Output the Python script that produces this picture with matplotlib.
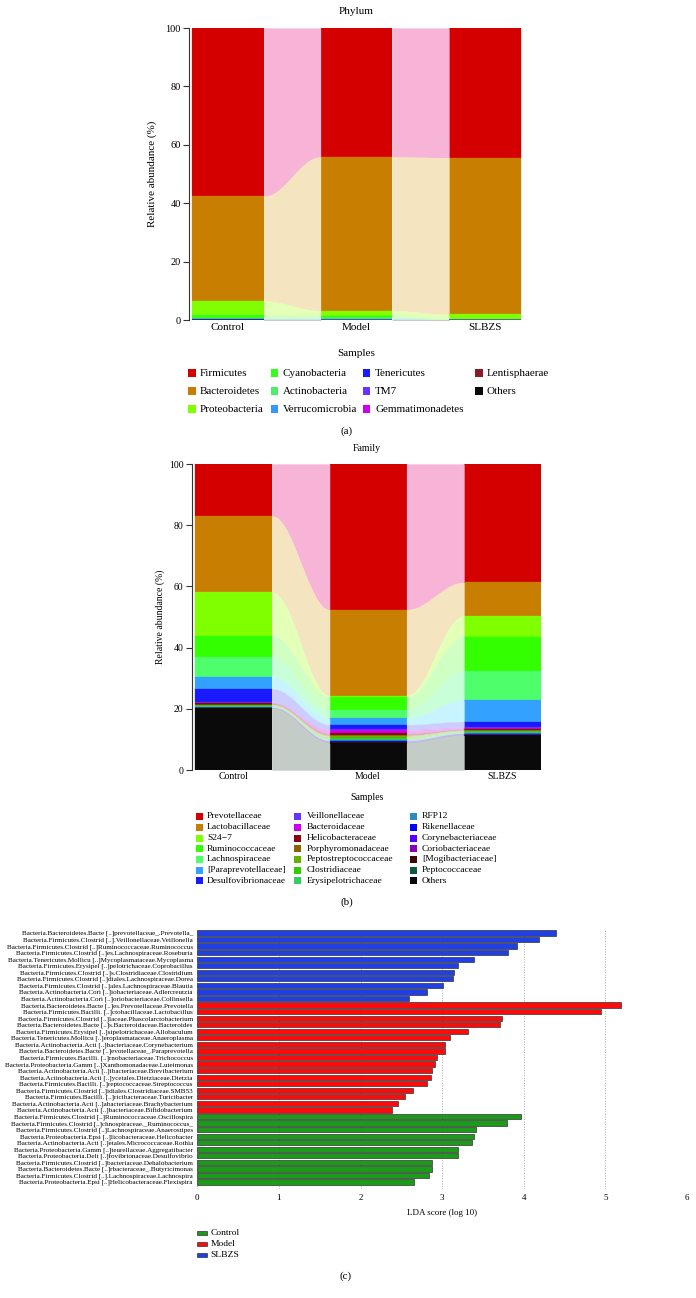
import numpy as np
import matplotlib.pyplot as plt
from matplotlib.colors import to_rgb
from matplotlib.patches import Rectangle

plt.rcParams['font.family'] = ['Liberation Serif', 'DejaVu Serif']

W, H = 696, 1298

samples = ['Control', 'Model', 'SLBZS']

# ---- panel (a): phylum, top of the stack first, Others at the bottom
phylum_names = ['Firmicutes', 'Bacteroidetes', 'Proteobacteria', 'Cyanobacteria',
                'Actinobacteria', 'Verrucomicrobia', 'Tenericutes', 'TM7',
                'Gemmatimonadetes', 'Lentisphaerae', 'Others']
phylum_control = [57.6, 35.9, 4.9, 1.2, 0.15, 0.05, 0.1, 0.02, 0.01, 0.02, 0.05]
phylum_model = [44.2, 52.6, 1.7, 0.9, 0.2, 0.25, 0.08, 0.02, 0.01, 0.01, 0.03]
phylum_slbzs = [44.4, 53.7, 1.4, 0.3, 0.1, 0.05, 0.02, 0.01, 0.01, 0.0, 0.01]

# ---- panel (b): family
family_names = ['Prevotellaceae', 'Lactobacillaceae', 'S24\u22127', 'Ruminococcaceae',
                'Lachnospiraceae', '[Paraprevotellaceae]', 'Desulfovibrionaceae',
                'Veillonellaceae', 'Bacteroidaceae', 'Helicobacteraceae',
                'Porphyromonadaceae', 'Peptostreptococcaceae', 'Clostridiaceae',
                'Erysipelotrichaceae', 'RFP12', 'Rikenellaceae', 'Corynebacteriaceae',
                'Coriobacteriaceae', '[Mogibacteriaceae]', 'Peptococcaceae', 'Others']
family_control = [17.0, 24.9, 14.2, 7.1, 6.4, 3.9, 4.3, 0.2, 0.1, 0.5, 0.2, 0.1,
                  0.2, 0.2, 0.3, 0.1, 0.05, 0.05, 0.05, 0.05, 20.1]
family_model = [47.6, 28.1, 0.4, 4.3, 2.7, 2.1, 1.4, 0.3, 1.1, 0.7, 0.3, 0.5,
                0.5, 0.3, 0.2, 0.2, 0.2, 0.1, 0.1, 0.1, 8.8]
family_slbzs = [38.7, 10.9, 6.9, 11.1, 9.6, 7.0, 1.7, 0.4, 0.4, 0.3, 0.1, 0.3,
                0.2, 0.3, 0.2, 0.2, 0.1, 0.1, 0.1, 0.1, 11.3]

# ---- panel (c): LEfSe LDA scores, listed top to bottom
lda_labels = [
    'Bacteria.Bacteroidetes.Bacte [..]prevotellaceae_.Prevotella_',
    'Bacteria.Firmicutes.Clostrid [..].Veillonellaceae.Veillonella',
    'Bacteria.Firmicutes.Clostrid [..]Ruminococcaceae.Ruminococcus',
    'Bacteria.Firmicutes.Clostrid [..]es.Lachnospiraceae.Roseburia',
    'Bacteria.Tenericutes.Mollicu [..]Mycoplasmataceae.Mycoplasma',
    'Bacteria.Firmicutes.Erysipel [..]pelotrichaceae.Coprobacillus',
    'Bacteria.Firmicutes.Clostrid [..]s.Clostridiaceae.Clostridium',
    'Bacteria.Firmicutes.Clostrid [..]diales.Lachnospiraceae.Dorea',
    'Bacteria.Firmicutes.Clostrid [..]ales.Lachnospiraceae.Blautia',
    'Bacteria.Actinobacteria.Cori [..]iobacteriaceae.Adlercreutzia',
    'Bacteria.Actinobacteria.Cori [..]oriobacteriaceae.Collinsella',
    'Bacteria.Bacteroidetes.Bacte [..]es.Prevotellaceae.Prevotella',
    'Bacteria.Firmicutes.Bacilli. [..]ctobacillaceae.Lactobacillus',
    'Bacteria.Firmicutes.Clostrid [..]laceae.Phascolarctobacterium',
    'Bacteria.Bacteroidetes.Bacte [..]s.Bacteroidaceae.Bacteroides',
    'Bacteria.Firmicutes.Erysipel [..]sipelotrichaceae.Allobaculum',
    'Bacteria.Tenericutes.Mollicu [..]eroplasmataceae.Anaeroplasma',
    'Bacteria.Actinobacteria.Acti [..]bacteriaceae.Corynebacterium',
    'Bacteria.Bacteroidetes.Bacte [..]evotellaceae_.Paraprevotella',
    'Bacteria.Firmicutes.Bacilli. [..]rnobacteriaceae.Trichococcus',
    'Bacteria.Proteobacteria.Gamm [..]Xanthomonadaceae.Luteimonas',
    'Bacteria.Actinobacteria.Acti [..]ibacteriaceae.Brevibacterium',
    'Bacteria.Actinobacteria.Acti [..]ycetales.Dietziaceae.Dietzia',
    'Bacteria.Firmicutes.Bacilli. [..]reptococcaceae.Streptococcus',
    'Bacteria.Firmicutes.Clostrid [..]idiales.Clostridiaceae.SMB53',
    'Bacteria.Firmicutes.Bacilli. [..]ricibacteraceae.Turicibacter',
    'Bacteria.Actinobacteria.Acti [..]abacteriaceae.Brachybacterium',
    'Bacteria.Actinobacteria.Acti [..]bacteriaceae.Bifidobacterium',
    'Bacteria.Firmicutes.Clostrid [..]Ruminococcaceae.Oscillospira',
    'Bacteria.Firmicutes.Clostrid [..]chnospiraceae._Ruminococcus_',
    'Bacteria.Firmicutes.Clostrid [..]Lachnospiraceae.Anaerostipes',
    'Bacteria.Proteobacteria.Epsi [..]licobacteraceae.Helicobacter',
    'Bacteria.Actinobacteria.Acti [..]etales.Micrococcaceae.Rothia',
    'Bacteria.Proteobacteria.Gamm [..]teurellaceae.Aggregatibacter',
    'Bacteria.Proteobacteria.Delt [..]fovibrionaceae.Desulfovibrio',
    'Bacteria.Firmicutes.Clostrid [..]bacteriaceae.Dehalobacterium',
    'Bacteria.Bacteroidetes.Bacte [..]rbacteraceae_.Butyricimonas',
    'Bacteria.Firmicutes.Clostrid [..].Lachnospiraceae.Lachnospira',
    'Bacteria.Proteobacteria.Epsi [..]Helicobacteraceae.Flexispira',
]
lda_scores = [4.40, 4.19, 3.92, 3.81, 3.39, 3.19, 3.15, 3.13, 3.01, 2.82, 2.59,
              5.19, 4.95, 3.73, 3.71, 3.32, 3.10, 3.04, 3.03, 2.94, 2.91, 2.88,
              2.86, 2.81, 2.64, 2.55, 2.46, 2.39,
              3.96, 3.80, 3.42, 3.39, 3.37, 3.20, 3.19, 2.88, 2.87, 2.84, 2.65]
lda_groups = ['SLBZS'] * 11 + ['Model'] * 17 + ['Control'] * 11
lda_legend = ['Control', 'Model', 'SLBZS']

# ---- styling
phylum_colors = ['#d40000', '#c87e00', '#7fff00', '#33ff1a', '#4dee6a', '#3399ff',
                 '#1a1aff', '#6633ff', '#cc00ee', '#8b1a22', '#0a0a0a']
family_colors = ['#d40000', '#c87e00', '#7fff00', '#33ff00', '#4dff6a', '#33a1ff',
                 '#1a1aff', '#6633ff', '#cc00ee', '#8b0015', '#8b6400', '#66b200',
                 '#33cc00', '#33cc66', '#2b8cbe', '#0000ff', '#5500ff', '#8800bb',
                 '#3a0808', '#0a5a46', '#0a0a0a']
flow_override = {'#d40000': '#f8b4d6', '#c87e00': '#f4e4c0', '#0a0a0a': '#c4ccc8',
                 '#7fff00': '#e4ffb8', '#33ff00': '#d0ffc4', '#33ff1a': '#d0ffc4',
                 '#4dff6a': '#c8ffd8', '#33a1ff': '#c8f4ff', '#1a1aff': '#ccccff'}
lda_colors = {'SLBZS': '#2040e6', 'Model': '#ff0a0a', 'Control': '#1c9a1a'}


def flow_color(c):
    if c in flow_override:
        return flow_override[c]
    r, g, b = to_rgb(c)
    a = 0.3
    return (1 - a + a * r, 1 - a + a * g, 1 - a + a * b)


fig = plt.figure(figsize=(W / 100, H / 100), dpi=100)


def px_axes(x0, y0, x1, y1):
    return fig.add_axes([x0 / W, 1 - y1 / H, (x1 - x0) / W, (y1 - y0) / H])


def ftext(x, y, s, size, ha='center', **kw):
    fig.text(x / W, 1 - y / H, s, ha=ha, va='center', fontsize=size, **kw)


def fsquare(x, y, w, h, color, **kw):
    fig.add_artist(Rectangle((x / W, 1 - (y + h / 2) / H), w / W, h / H,
                             transform=fig.transFigure, facecolor=color, **kw))


def stream(ax, data, colors, width):
    data = np.array(data, dtype=float)
    tops = 100 - np.cumsum(data, axis=1) + data
    bots = tops - data
    xs = np.arange(data.shape[0])
    for k in range(data.shape[1]):
        ax.bar(xs, data[:, k], bottom=bots[:, k], width=width, color=colors[k],
               linewidth=0.2, edgecolor=colors[k])
        for i in range(data.shape[0] - 1):
            t = np.linspace(0, 1, 80)
            s = (1 - np.cos(np.pi * t)) / 2
            xx = (i + width / 2) + (1 - width) * t
            lo = bots[i, k] + (bots[i + 1, k] - bots[i, k]) * s
            hi = tops[i, k] + (tops[i + 1, k] - tops[i, k]) * s
            ax.fill_between(xx, lo, hi, color=flow_color(colors[k]), linewidth=0.2)


def style_stream_axes(ax, width, tick_fs, lab_fs, labelpad, xpad):
    for sp in ['top', 'right', 'bottom']:
        ax.spines[sp].set_visible(False)
    ax.spines['left'].set_color('#333333')
    ax.spines['left'].set_linewidth(0.8)
    ax.set_ylim(0, 100)
    ax.set_yticks([0, 20, 40, 60, 80, 100])
    ax.set_xticks(range(len(samples)), samples)
    ax.tick_params(axis='y', length=4, width=0.8, labelsize=tick_fs, pad=2,
                   color='#333333')
    ax.tick_params(axis='x', length=0, labelsize=lab_fs, pad=xpad)
    ax.set_ylabel('Relative abundance (%)', fontsize=lab_fs, labelpad=labelpad)


# ---- (a)
ax1 = px_axes(189, 28, 522, 320)
stream(ax1, [phylum_control, phylum_model, phylum_slbzs], phylum_colors, 0.56)
ax1.set_xlim(-0.3035, 2.288)
style_stream_axes(ax1, 0.56, 7.5, 8, 6, 2.5)
ftext(356, 11, 'Phylum', 8)
ftext(356, 353, 'Samples', 8)
ph_cols = [(188, 200), (270.5, 282.7), (362.7, 375), (475, 486.7)]
ph_rows = [373, 391, 409]
for j, name in enumerate(phylum_names):
    c, r = divmod(j, 3)
    sx, tx = ph_cols[c]
    fsquare(sx, ph_rows[r], 7.5, 7.5, phylum_colors[j], linewidth=0)
    ftext(tx, ph_rows[r], name, 8, ha='left')
ftext(347, 431, '(a)', 8)

# ---- (b)
ax2 = px_axes(192, 464, 541, 770)
stream(ax2, [family_control, family_model, family_slbzs], family_colors, 0.5725)
ax2.set_xlim(-0.309, 2.286)
style_stream_axes(ax2, 0.5725, 7, 7, 3, 1.5)
ftext(367, 449, 'Family', 7)
ftext(367, 797, 'Samples', 7)
fa_cols = [(196, 207), (294, 306.5), (410, 422)]
fa_rows = [816, 827, 838, 848.7, 859.3, 870, 880.7]
for j, name in enumerate(family_names):
    c, r = divmod(j, 7)
    sx, tx = fa_cols[c]
    fsquare(sx, fa_rows[r], 7, 7, family_colors[j], linewidth=0)
    ftext(tx, fa_rows[r], name, 6.8, ha='left')
ftext(347, 902, '(b)', 8)

# ---- (c)
ax3 = px_axes(197.3, 929, 687, 1189)
ypos = np.arange(len(lda_labels))
ax3.barh(ypos, lda_scores, height=0.8,
         color=[lda_colors[g] for g in lda_groups],
         edgecolor='#333333', linewidth=0.5)
ax3.set_xlim(0, 6)
ax3.set_ylim(len(lda_labels) - 1 + 1.07, -0.61)
ax3.set_yticks(ypos, lda_labels)
ax3.set_xticks(range(7))
ax3.tick_params(axis='y', length=0, labelsize=5.1, pad=3.2)
ax3.tick_params(axis='x', length=0, labelsize=6.5, pad=3.5)
for sp in ax3.spines.values():
    sp.set_visible(False)
ax3.set_axisbelow(True)
ax3.grid(axis='x', linestyle=':', color='#aaaaaa', linewidth=0.7)
ftext(442, 1213, 'LDA score (log 10)', 6.5)
for name, y in zip(lda_legend, [1232.7, 1244, 1254.7]):
    fsquare(197, y, 10, 4, lda_colors[name], edgecolor='#333333', linewidth=0.5)
    ftext(210.5, y, name, 6.8, ha='left')
ftext(346, 1276, '(c)', 8)

fig.savefig('out.png', dpi=100)
